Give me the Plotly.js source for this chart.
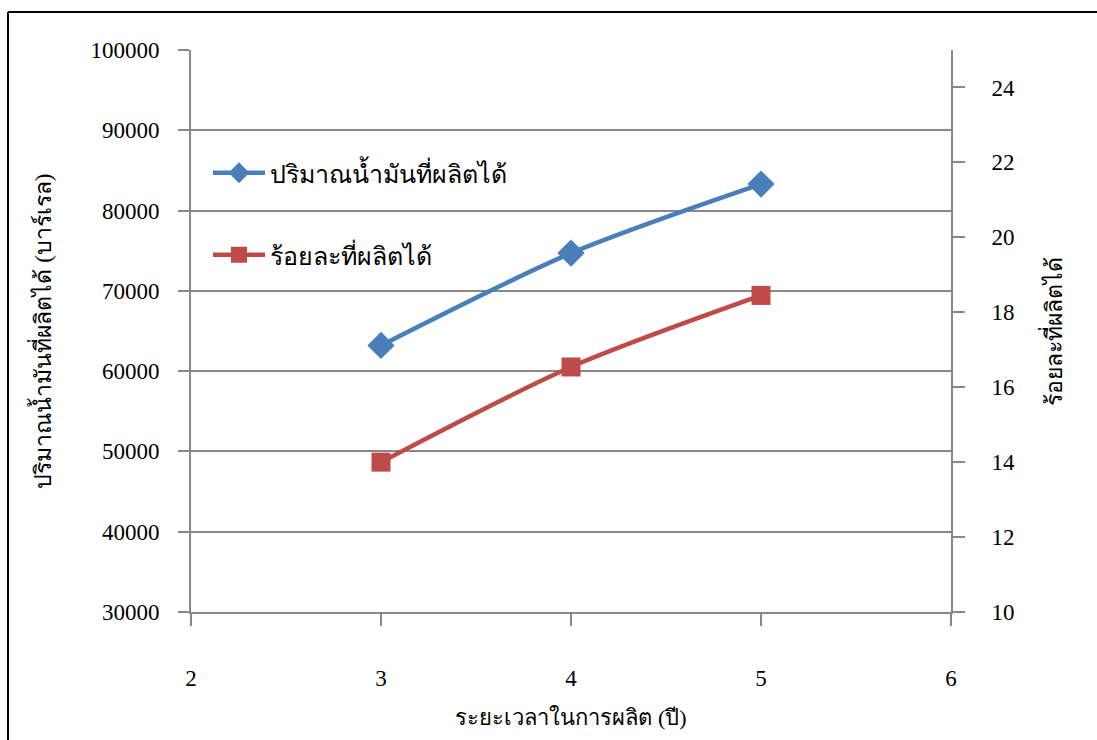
<!DOCTYPE html>
<html>
<head>
<meta charset="utf-8">
<script src="https://cdn.plot.ly/plotly-3.0.1.min.js"></script>
<style>html,body{margin:0;padding:0;background:#fff;}#chart{width:1097px;height:740px;}</style>
</head>
<body>
<div id="chart"></div>
<script>
const years = [3, 4, 5];
const oilProduced = [63200, 74700, 83300];
const percentProduced = [14.0, 16.54, 18.45];
const seriesNames = ["ปริมาณน้ำมันที่ผลิตได้", "ร้อยละที่ผลิตได้"];
const xTitle = "ระยะเวลาในการผลิต (ปี)";
const yLeftTitle = "ปริมาณน้ำมันที่ผลิตได้ (บาร์เรล)";
const yRightTitle = "ร้อยละที่ผลิตได้";
const xTicks = [2, 3, 4, 5, 6];
const yLeftTicks = [30000, 40000, 50000, 60000, 70000, 80000, 90000, 100000];
const yRightTicks = [10, 12, 14, 16, 18, 20, 22, 24];

const FONT = "Liberation Serif, Times New Roman, serif";
const gridColor = "#888888";

const traces = [
  {
    x: years, y: oilProduced, name: seriesNames[0], type: "scatter", mode: "lines+markers",
    line: {color: "#4A7EBB", width: 4.5, shape: "spline", smoothing: 0.8},
    marker: {symbol: "diamond", size: 21, color: "#4A7EBB"},
    yaxis: "y", legend: "legend"
  },
  {
    x: years, y: percentProduced, name: seriesNames[1], type: "scatter", mode: "lines+markers",
    line: {color: "#BE4B48", width: 4.5, shape: "spline", smoothing: 0.8},
    marker: {symbol: "square", size: 19, color: "#BE4B48"},
    yaxis: "y2", legend: "legend2"
  }
];

const W = 760, H = 562, L = 191, T = 50;
function px(x){ return (x - L) / W; }
function py(y){ return 1 - (y - T) / H; }

const layout = {
  width: 1097, height: 740,
  margin: {l: L, r: 1097 - L - W, t: T, b: 740 - T - H, pad: 0},
  paper_bgcolor: "#fff", plot_bgcolor: "#fff",
  font: {family: FONT, size: 22, color: "#000"},
  showlegend: true,
  xaxis: {
    range: [2, 6], tickvals: xTicks, ticktext: xTicks.map(String),
    showgrid: false, zeroline: false,
    showline: true, linecolor: gridColor, linewidth: 2,
    ticks: "outside", ticklen: 12, tickcolor: gridColor, tickwidth: 2,
    tickfont: {family: FONT, size: 23}, ticklabelstandoff: 32,
    title: {text: xTitle, font: {family: FONT, size: 22}, standoff: 20}
  },
  yaxis: {
    range: [30000, 100000], tickvals: yLeftTicks, ticktext: yLeftTicks.map(String),
    showgrid: true, gridcolor: gridColor, gridwidth: 2, zeroline: false,
    showline: true, linecolor: gridColor, linewidth: 2,
    ticks: "outside", ticklen: 11, tickcolor: gridColor, tickwidth: 2,
    tickfont: {family: FONT, size: 23}, ticklabelstandoff: 14,
    title: {text: yLeftTitle, font: {family: FONT, size: 23}, standoff: 32}
  },
  yaxis2: {
    overlaying: "y", side: "right",
    range: [10, 25], tickvals: yRightTicks, ticktext: yRightTicks.map(String),
    showgrid: false, zeroline: false,
    showline: true, linecolor: gridColor, linewidth: 2,
    ticks: "outside", ticklen: 12, tickcolor: gridColor, tickwidth: 2,
    tickfont: {family: FONT, size: 23}, ticklabelstandoff: 22,
    title: {text: yRightTitle, font: {family: FONT, size: 23}, standoff: 32}
  },
  legend: {
    x: px(208), y: py(173), xanchor: "left", yanchor: "middle",
    bgcolor: "rgba(0,0,0,0)", font: {family: FONT, size: 25}, itemwidth: 52
  },
  legend2: {
    x: px(208), y: py(255), xanchor: "left", yanchor: "middle",
    bgcolor: "rgba(0,0,0,0)", font: {family: FONT, size: 25}, itemwidth: 52
  },
  shapes: [
    {type: "line", xref: "paper", yref: "paper", x0: px(8), x1: px(8), y0: py(760), y1: py(12), line: {color: "#000", width: 2}},
    {type: "line", xref: "paper", yref: "paper", x0: px(8), x1: px(1110), y0: py(12), y1: py(12), line: {color: "#000", width: 2}}
  ]
};

Plotly.newPlot("chart", traces, layout, {staticPlot: true, displayModeBar: false});
</script>
</body>
</html>
